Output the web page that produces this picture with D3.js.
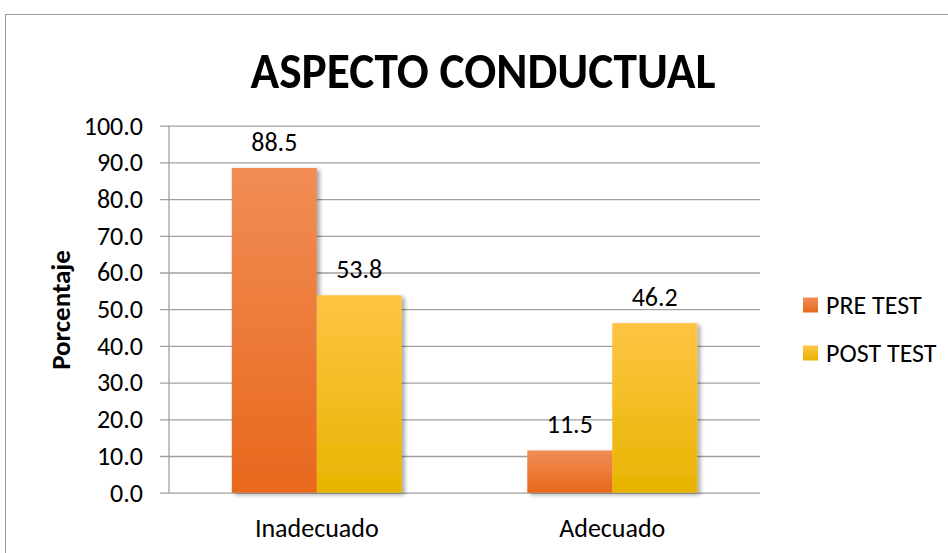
<!DOCTYPE html>
<html>
<head>
<meta charset="utf-8">
<script src="https://cdn.jsdelivr.net/npm/d3@7"></script>
<style>
  body { margin: 0; background: #fff; }
  svg { display: block; font-family: Calibri, Carlito, Lato, sans-serif; }
</style>
</head>
<body>
<script>
// chart data
var categories = ['Inadecuado', 'Adecuado'];
var series = ['PRE TEST', 'POST TEST'];
var preTest = [88.5, 11.5];
var postTest = [53.8, 46.2];
var yTicks = [0, 10, 20, 30, 40, 50, 60, 70, 80, 90, 100];

const w = 948;
const h = 553;
const plotLeft = 169, plotRight = 760, plotTop = 125.7, plotBottom = 492.7;

var data = categories.map(function(c, i) {
  return { cat: c, values: [preTest[i], postTest[i]] };
});

var svg = d3.select('body').append('svg')
  .attr('width', w)
  .attr('height', h);

var defs = svg.append('defs');

// gradients for bars
var grads = [
  { id: 'gPre', top: '#F18D55', bottom: '#E8681C' },
  { id: 'gPost', top: '#FFC444', bottom: '#E8B400' }
];
grads.forEach(function(g) {
  var lg = defs.append('linearGradient')
    .attr('id', g.id)
    .attr('x1', 0).attr('y1', 0).attr('x2', 0).attr('y2', 1);
  lg.append('stop').attr('offset', '0%').attr('stop-color', g.top);
  lg.append('stop').attr('offset', '100%').attr('stop-color', g.bottom);
});

var shadow = defs.append('filter').attr('id', 'shadow')
  .attr('x', '-10%').attr('y', '-10%').attr('width', '130%').attr('height', '130%');
shadow.append('feDropShadow')
  .attr('dx', 3).attr('dy', 2).attr('stdDeviation', 2)
  .attr('flood-color', '#000').attr('flood-opacity', 0.35);

// outer frame
svg.append('rect')
  .attr('x', 5.5).attr('y', 14.5)
  .attr('width', 1000).attr('height', 600)
  .attr('fill', 'none')
  .attr('stroke', '#9a9a9a');

// title
svg.append('text')
  .attr('x', 483).attr('y', 88)
  .attr('text-anchor', 'middle')
  .attr('font-size', 51)
  .attr('font-weight', 'bold')
  .attr('textLength', 465)
  .attr('lengthAdjust', 'spacingAndGlyphs')
  .text('ASPECTO CONDUCTUAL');

var yScale = d3.scaleLinear()
  .domain([0, 100])
  .range([plotBottom, plotTop]);

var xScale = d3.scaleBand()
  .domain(categories)
  .range([plotLeft, plotRight])
  .paddingInner(0.425)
  .paddingOuter(0.2125);

var xInner = d3.scaleBand()
  .domain(series)
  .range([0, xScale.bandwidth()]);

// gridlines + y axis
var yAxis = d3.axisLeft(yScale)
  .tickValues(yTicks)
  .tickSize(-(plotRight - plotLeft))
  .tickFormat(d3.format('.1f'));

var gy = svg.append('g')
  .attr('transform', 'translate(' + plotLeft + ',0)')
  .call(yAxis);
gy.select('.domain').remove();
gy.selectAll('.tick line')
  .attr('x1', -9)
  .attr('stroke', '#a0a0a0')
  .attr('stroke-width', 1.3);
gy.selectAll('.tick text')
  .attr('font-size', 26)
  .attr('fill', '#000')
  .attr('x', -26)
  .style('font-family', 'Calibri, Carlito, Lato, sans-serif');

svg.append('line')
  .attr('x1', plotLeft).attr('x2', plotLeft)
  .attr('y1', plotTop).attr('y2', plotBottom)
  .attr('stroke', '#a0a0a0')
  .attr('stroke-width', 1.3);

// bars
var groups = svg.selectAll('.grp')
  .data(data)
  .enter().append('g')
  .attr('class', 'grp')
  .attr('transform', function(d) { return 'translate(' + xScale(d.cat) + ',0)'; });

groups.selectAll('rect')
  .data(function(d) { return d.values.map(function(v, i) { return { s: series[i], v: v, i: i }; }); })
  .enter().append('rect')
  .attr('x', function(d) { return xInner(d.s); })
  .attr('y', function(d) { return yScale(d.v); })
  .attr('width', xInner.bandwidth())
  .attr('height', function(d) { return yScale(0) - yScale(d.v); })
  .attr('fill', function(d) { return 'url(#' + grads[d.i].id + ')'; })
  .attr('filter', 'url(#shadow)');

groups.selectAll('.lbl')
  .data(function(d) { return d.values.map(function(v, i) { return { s: series[i], v: v }; }); })
  .enter().append('text')
  .attr('class', 'lbl')
  .attr('x', function(d) { return xInner(d.s) + xInner.bandwidth() / 2; })
  .attr('y', function(d) { return yScale(d.v) - 17; })
  .attr('text-anchor', 'middle')
  .attr('font-size', 26)
  .text(function(d) { return d3.format('.1f')(d.v); });

// x labels
svg.selectAll('.xl')
  .data(categories)
  .enter().append('text')
  .attr('class', 'xl')
  .attr('x', function(d) { return xScale(d) + xScale.bandwidth() / 2; })
  .attr('y', 537)
  .attr('text-anchor', 'middle')
  .attr('font-size', 26)
  .text(function(d) { return d; });

// y axis title
svg.append('text')
  .attr('transform', 'translate(70,310) rotate(-90)')
  .attr('text-anchor', 'middle')
  .attr('font-size', 27)
  .attr('font-weight', 'bold')
  .text('Porcentaje');

// legend
var legend = svg.selectAll('.leg')
  .data(series)
  .enter().append('g')
  .attr('class', 'leg')
  .attr('transform', function(d, i) { return 'translate(803,' + (305 + i * 48) + ')'; });

legend.append('rect')
  .attr('x', 0).attr('y', -7.5)
  .attr('width', 15).attr('height', 15)
  .attr('fill', function(d, i) { return 'url(#' + grads[i].id + ')'; });

legend.append('text')
  .attr('x', 23).attr('y', 9)
  .attr('font-size', 26)
  .text(function(d) { return d; });
</script>
</body>
</html>
